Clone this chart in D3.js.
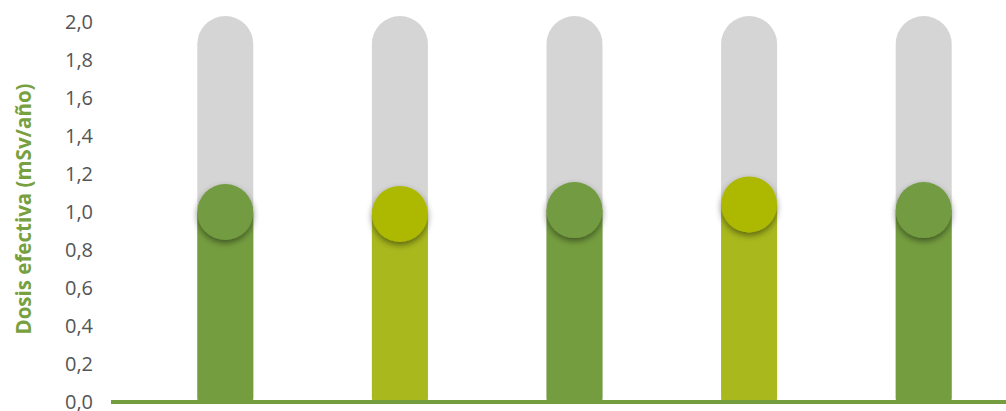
<!DOCTYPE html>
<html><head><meta charset="utf-8">
<script src="https://cdn.jsdelivr.net/npm/d3@7"></script>
<style>body{margin:0;background:#fff}svg{display:block}</style>
</head><body>
<script>
const categories = ["A","B","C","D","E"];
const values = [1.00, 0.99, 1.01, 1.04, 1.01];
const maxValues = [2.0, 2.0, 2.0, 2.0, 2.0];
const colorKeys = ["green","yellow","green","yellow","green"];
const yTicks = [0,0.2,0.4,0.6,0.8,1.0,1.2,1.4,1.6,1.8,2.0];
const yTitle = "Dosis efectiva (mSv/año)";

const W=1006,H=411;
const barColor={green:"#749d3f",yellow:"#a8b81d"};
const dotColor={green:"#739b43",yellow:"#adb800"};
const svg=d3.select("body").append("svg").attr("width",W).attr("height",H);
const defs=svg.append("defs");
const f=defs.append("filter").attr("id","sh").attr("x","-50%").attr("y","-50%").attr("width","200%").attr("height","200%");
f.append("feDropShadow").attr("dx",0).attr("dy",3).attr("stdDeviation",3).attr("flood-color","#000").attr("flood-opacity",0.45);

const y=d3.scaleLinear().domain([0,2]).range([402,22]);
const x=d3.scalePoint().domain(categories).range([138,1011]).padding(0.5);
const bw=56;

const g=svg.append("g");
g.selectAll(".bg").data(categories).join("path")
 .attr("fill","#d5d5d5")
 .attr("d",(c,i)=>{const cx=x(c),x0=cx-bw/2,x1=cx+bw/2,top=y(maxValues[i])-6+bw/2,bot=y(0);
   return `M${x0},${bot}L${x0},${top}A${bw/2},${bw/2} 0 0 1 ${x1},${top}L${x1},${bot}Z`;});
g.selectAll(".bar").data(categories).join("path")
 .attr("fill",(c,i)=>barColor[colorKeys[i]])
 .attr("d",(c,i)=>{const cx=x(c),x0=cx-bw/2,x1=cx+bw/2,top=y(values[i]),bot=y(0),r=4;
   return `M${x0},${top}L${x1},${top}L${x1},${bot-r}Q${x1},${bot} ${x1-r},${bot}L${x0+r},${bot}Q${x0},${bot} ${x0},${bot-r}Z`;});
g.selectAll(".dot").data(categories).join("circle")
 .attr("cx",c=>x(c)).attr("cy",(c,i)=>y(values[i])).attr("r",28)
 .attr("fill",(c,i)=>dotColor[colorKeys[i]]).attr("filter","url(#sh)");

svg.append("line").attr("x1",111).attr("x2",W).attr("y1",y(0)).attr("y2",y(0))
 .attr("stroke","#749d3f").attr("stroke-width",4);

const ax=svg.append("g").attr("transform","translate(93,0)")
 .call(d3.axisLeft(y).tickValues(yTicks).tickSize(0).tickPadding(0).tickFormat(d=>d3.format(".1f")(d).replace(".",",")));
ax.select(".domain").remove();
ax.selectAll("text").attr("font-family","'Open Sans',sans-serif").attr("font-size",20).attr("fill","#555").attr("dy","0.3em");

svg.append("text").attr("transform","translate(31,209) rotate(-90)")
 .attr("text-anchor","middle").attr("font-family","'Open Sans',sans-serif").attr("font-weight","bold")
 .attr("font-size",20.5).attr("fill","#77a040").text(yTitle);
</script>
</body></html>
